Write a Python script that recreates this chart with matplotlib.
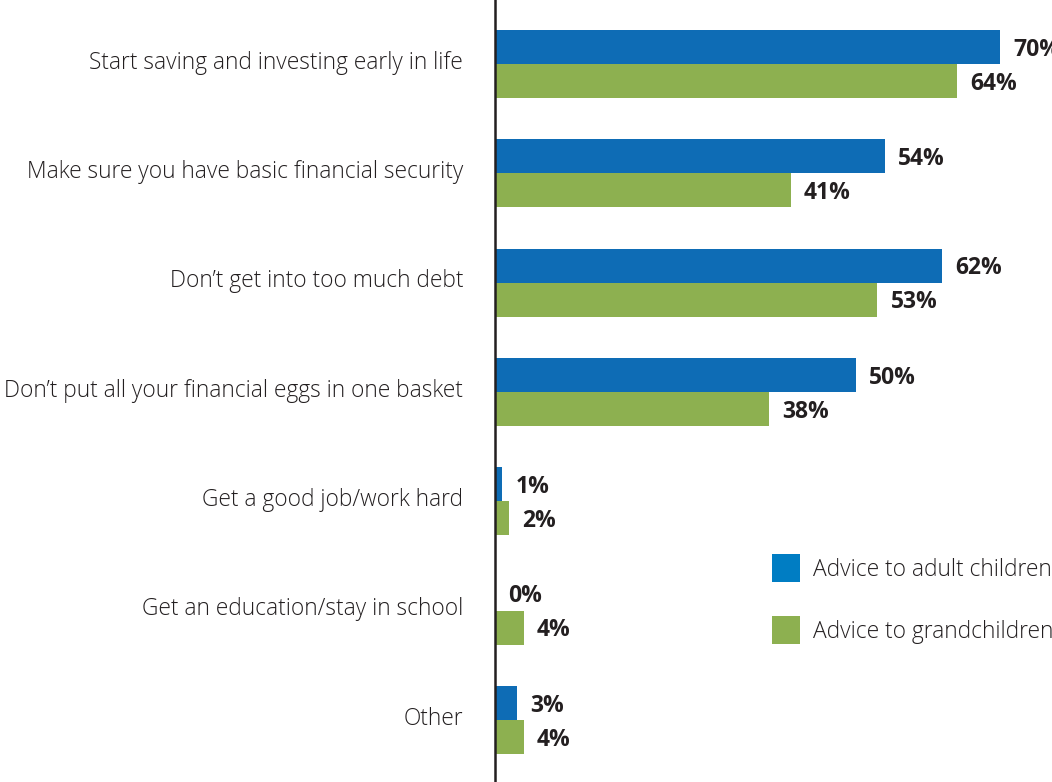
import matplotlib
matplotlib.use("Agg")
import matplotlib.pyplot as plt
import matplotlib.transforms as mtransforms
import numpy as np

categories = [
    "Start saving and investing early in life",
    "Make sure you have basic financial security",
    "Don\u2019t get into too much debt",
    "Don\u2019t put all your financial eggs in one basket",
    "Get a good job/work hard",
    "Get an education/stay in school",
    "Other",
]
adult_children = [70, 54, 62, 50, 1, 0, 3]
grandchildren = [64, 41, 53, 38, 2, 4, 4]
series_names = ["Advice to adult children", "Advice to grandchildren"]

BLUE = "#0e6cb5"
BLUE_KEY = "#007dc3"
GREEN = "#8db050"
TEXT = "#231f20"
FONT = "Open Sans"
LABEL_SIZE = 16.4
VALUE_SIZE = 16.5

fig = plt.figure(figsize=(10.52, 7.82), dpi=100)
ax = fig.add_axes([495 / 1052, 0, 1 - 495 / 1052, 1])

y = np.arange(len(categories))
h = 0.311
ax.barh(y - h / 2, adult_children, height=h, color=BLUE, linewidth=0)
ax.barh(y + h / 2, grandchildren, height=h, color=GREEN, linewidth=0)

ax.set_xlim(0, 77.2)
ax.set_ylim(6.567, -0.585)

for offs, vals in [(-h / 2, adult_children), (h / 2, grandchildren)]:
    for yi, v in zip(y, vals):
        ax.annotate(f"{v}%", (v, yi + offs), xytext=(9.5, -2), textcoords="offset points",
                    ha="left", va="center", fontsize=VALUE_SIZE, fontweight="bold",
                    color=TEXT, family=FONT, annotation_clip=False)

ax.set_yticks(y)
ax.set_yticklabels(categories, fontsize=LABEL_SIZE, color=TEXT, family=FONT, fontweight="light")
ax.tick_params(axis="y", length=0, pad=23)
lift = mtransforms.ScaledTranslation(0, 3 / 72, fig.dpi_scale_trans)
for lbl in ax.get_yticklabels():
    lbl.set_transform(lbl.get_transform() + lift)
ax.set_xticks([])

for side in ["top", "right", "bottom"]:
    ax.spines[side].set_visible(False)
ax.spines["left"].set_color(TEXT)
ax.spines["left"].set_linewidth(1.8)

# legend keys drawn as squares in figure pixel coordinates
for (ytop, color, name) in [(554, BLUE_KEY, series_names[0]), (616, GREEN, series_names[1])]:
    fig.patches.append(plt.Rectangle((772 / 1052, 1 - (ytop + 28) / 782), 28 / 1052, 28 / 782,
                                     transform=fig.transFigure, color=color, linewidth=0))
    fig.text(813 / 1052, 1 - (ytop + 16) / 782, name, ha="left", va="center",
             fontsize=LABEL_SIZE, color=TEXT, family=FONT, fontweight="light")

fig.savefig("out.png", dpi=100)
